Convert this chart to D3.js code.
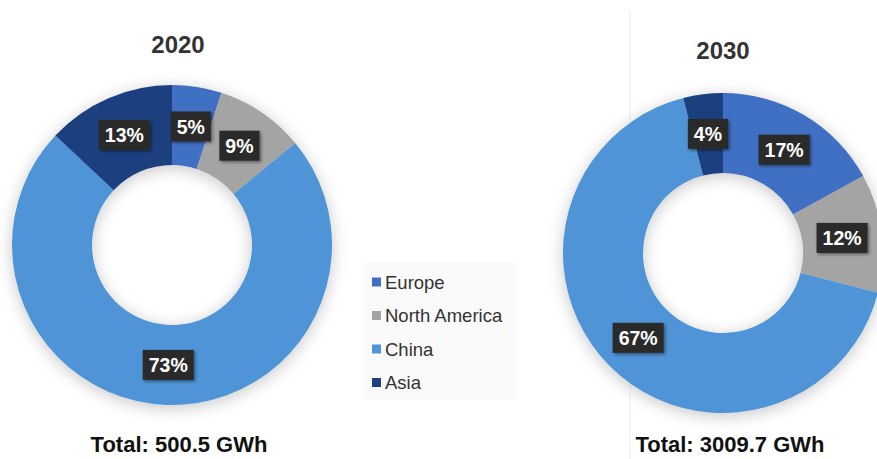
<!DOCTYPE html>
<html>
<head>
<meta charset="utf-8">
<script src="https://cdn.jsdelivr.net/npm/d3@7"></script>
<style>
  html, body { margin: 0; padding: 0; background: #ffffff; }
  svg { display: block; font-family: Arial, "Liberation Sans", sans-serif; }
</style>
</head>
<body>
<svg id="chart" width="877" height="459"></svg>
<script>
// Regional shares of capacity (%), in drawing order clockwise from 12 o'clock
const regions = ["Europe", "North America", "China", "Asia"];
const share2020 = [5, 9, 73, 13];
const share2030 = [17, 12, 67, 4];
const years = ["2020", "2030"];
const totals = ["Total: 500.5 GWh", "Total: 3009.7 GWh"];
const regionColors = ["#3f6fc4", "#a4a4a4", "#4f94d6", "#1f3f7f"];

const svg = d3.select("#chart");
const W = 877, H = 459;

const defs = svg.append("defs");
const shadow = defs.append("filter").attr("id", "ringShadow")
  .attr("x", "-20%").attr("y", "-20%").attr("width", "140%").attr("height", "140%");
shadow.append("feDropShadow").attr("dx", 0).attr("dy", 3)
  .attr("stdDeviation", 8).attr("flood-color", "#000").attr("flood-opacity", 0.22);

const boxShadow = defs.append("filter").attr("id", "boxShadow")
  .attr("x", "-30%").attr("y", "-30%").attr("width", "160%").attr("height", "160%");
boxShadow.append("feDropShadow").attr("dx", 1.5).attr("dy", 1.5)
  .attr("stdDeviation", 1.5).attr("flood-color", "#000").attr("flood-opacity", 0.45);

// faint divider between the two panels
svg.append("line")
  .attr("x1", 630).attr("x2", 630).attr("y1", 10).attr("y2", H)
  .attr("stroke", "#ececec").attr("stroke-width", 1);

const color = d3.scaleOrdinal().domain(regions).range(regionColors);
const pie = d3.pie().sort(null).value(d => d.value);
const outerR = 160, innerR = 80;
const arc = d3.arc().innerRadius(innerR).outerRadius(outerR);
const labelArc = d3.arc().innerRadius(120).outerRadius(120);

const panels = [
  { cx: 172, cy: 245, titleX: 178, titleY: 53, totalX: 179, totalY: 452, values: share2020 },
  { cx: 723, cy: 253, titleX: 723, titleY: 59, totalX: 730, totalY: 452, values: share2030 }
];

panels.forEach((p, i) => {
  const data = regions.map((r, k) => ({ region: r, value: p.values[k] }));
  const g = svg.append("g").attr("transform", `translate(${p.cx},${p.cy})`);

  const ring = g.append("g").attr("filter", "url(#ringShadow)");
  ring.selectAll("path")
    .data(pie(data))
    .join("path")
    .attr("d", arc)
    .attr("fill", d => color(d.data.region));

  const labels = g.selectAll("g.lbl")
    .data(pie(data))
    .join("g")
    .attr("class", "lbl")
    .attr("transform", d => `translate(${labelArc.centroid(d)})`);

  labels.each(function(d) {
    const lg = d3.select(this);
    const txt = d.data.value + "%";
    const t = lg.append("text")
      .attr("text-anchor", "middle")
      .attr("dy", "0.36em")
      .attr("fill", "#ffffff")
      .attr("font-size", 19.5)
      .attr("font-weight", "bold")
      .text(txt);
    const bb = t.node().getBBox();
    lg.insert("rect", "text")
      .attr("x", bb.x - 6).attr("y", -15)
      .attr("width", bb.width + 12).attr("height", 30)
      .attr("fill", "#2b2b2b")
      .attr("filter", "url(#boxShadow)");
  });

  svg.append("text")
    .attr("x", p.titleX).attr("y", p.titleY)
    .attr("text-anchor", "middle")
    .attr("font-size", 24).attr("font-weight", "bold")
    .attr("fill", "#333333")
    .text(years[i]);

  svg.append("text")
    .attr("x", p.totalX).attr("y", p.totalY)
    .attr("text-anchor", "middle")
    .attr("font-size", 22).attr("font-weight", "bold")
    .attr("fill", "#111111")
    .text(totals[i]);
});

// legend
const legend = svg.append("g").attr("transform", "translate(364,262)");
legend.append("rect")
  .attr("width", 152).attr("height", 138)
  .attr("fill", "#fafafa");
const item = legend.selectAll("g.item")
  .data(regions)
  .join("g")
  .attr("class", "item")
  .attr("transform", (d, k) => `translate(8,${20 + k * 33.5})`);
item.append("rect")
  .attr("x", 0).attr("y", -4.5).attr("width", 9).attr("height", 9)
  .attr("fill", d => color(d));
item.append("text")
  .attr("x", 13).attr("dy", "0.36em")
  .attr("font-size", 18.5).attr("fill", "#333333")
  .text(d => d);
</script>
</body>
</html>
